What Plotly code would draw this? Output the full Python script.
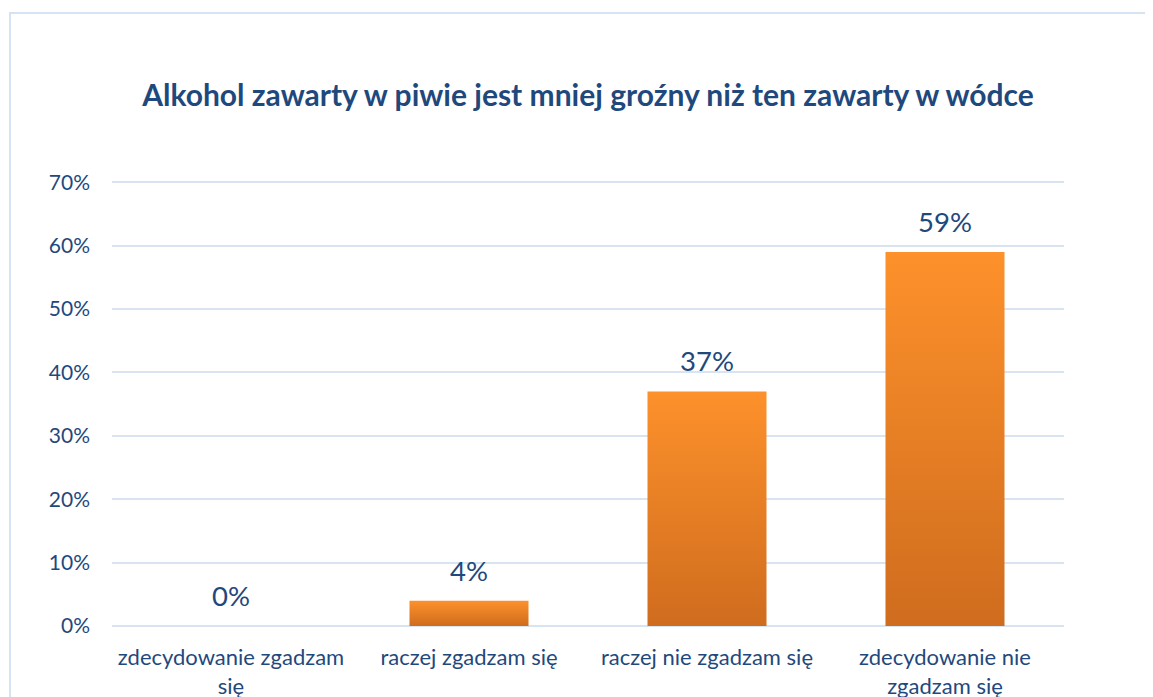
import plotly.graph_objects as go

categories = ["zdecydowanie zgadzam<br>się", "raczej zgadzam się", "raczej nie zgadzam się", "zdecydowanie nie<br>zgadzam się"]
values = [0.0, 0.04, 0.37, 0.59]
labels = ["0%", "4%", "37%", "59%"]
tick_vals = [0, 0.1, 0.2, 0.3, 0.4, 0.5, 0.6, 0.7]
tick_text = ["0%", "10%", "20%", "30%", "40%", "50%", "60%", "70%"]

TEXT = "#1f497d"
GRID = "#d9e4f3"
HALF = 0.25
YMAX = 0.705
T = 171
PH = 447

fig = go.Figure()
for i, v in enumerate(values):
    if v <= 0:
        continue
    fig.add_trace(go.Scatter(
        x=[i - HALF, i + HALF, i + HALF, i - HALF, i - HALF],
        y=[0, 0, v, v, 0],
        mode="lines", line=dict(width=0), fill="toself",
        fillgradient=dict(type="vertical",
                          colorscale=[[0, "#cf6c1e"], [1, "#fd912b"]]),
        hoverinfo="skip", showlegend=False,
    ))

annotations = [
    dict(x=i, y=v, xref="x", yref="y", text=lab, showarrow=False,
         yanchor="bottom", yshift=12,
         font=dict(family="Lato", size=27.5, color=TEXT))
    for i, (v, lab) in enumerate(zip(values, labels))
]

fig.update_layout(
    width=1153, height=697,
    paper_bgcolor="white", plot_bgcolor="white",
    margin=dict(l=104, r=97, t=T, b=697 - T - PH, autoexpand=False),
    title=dict(text="<b>Alkohol zawarty w piwie jest mniej groźny niż ten zawarty w wódce</b>",
               x=0.503, xanchor="center", y=0.875, yanchor="middle",
               font=dict(family="Lato", size=30, color=TEXT)),
    xaxis=dict(range=[-0.5, 3.5], tickvals=list(range(4)), ticktext=categories,
               showgrid=False, zeroline=False, showline=False, ticks="",
               ticklabelstandoff=16, automargin=False,
               tickfont=dict(family="Lato", size=22, color=TEXT)),
    yaxis=dict(range=[0, YMAX], tickvals=tick_vals, ticktext=tick_text,
               showgrid=True, gridcolor=GRID, gridwidth=2, zeroline=True,
               zerolinecolor=GRID, zerolinewidth=2, automargin=False,
               showline=False, ticks="", ticklabelstandoff=21,
               tickfont=dict(family="Lato", size=21, color=TEXT)),
    annotations=annotations,
    shapes=[dict(type="rect", xref="paper", yref="paper",
                 x0=-102/952, x1=1.2, y0=-0.3, y1=1 + (T - 5) / PH,
                 line=dict(color="#d6e3f4", width=2), fillcolor="rgba(0,0,0,0)",
                 layer="below")],
)

fig.write_html("out.html")
